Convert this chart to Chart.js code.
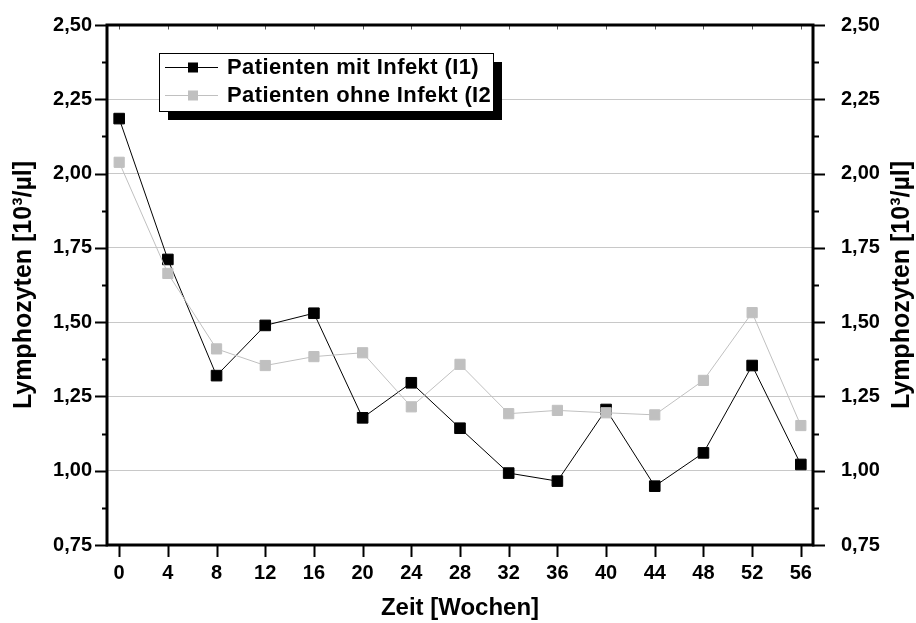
<!DOCTYPE html>
<html>
<head>
<meta charset="utf-8">
<script src="https://cdn.jsdelivr.net/npm/chart.js@4/dist/chart.umd.min.js"></script>
<style>
    html, body { margin: 0; padding: 0; background: #fff; }
</style>
</head>
<body>
<canvas id="grafica" width="916" height="623"></canvas>
<script>
const wochen = [0, 4, 8, 12, 16, 20, 24, 28, 32, 36, 40, 44, 48, 52, 56];
const mitInfekt = [2.185, 1.711, 1.320, 1.489, 1.530, 1.178, 1.296, 1.143, 0.992, 0.965, 1.206, 0.948, 1.060, 1.354, 1.021];
const ohneInfekt = [2.038, 1.664, 1.410, 1.354, 1.384, 1.397, 1.215, 1.358, 1.192, 1.203, 1.195, 1.188, 1.304, 1.532, 1.152];
const yTicks = [0.75, 1.00, 1.25, 1.50, 1.75, 2.00, 2.25, 2.50];
const etiquetas = ['Patienten mit Infekt (I1)', 'Patienten ohne Infekt (I2'];
const tituloY = 'Lymphozyten [10³/µl]';
const tituloX = 'Zeit [Wochen]';

const fuente = '"Liberation Sans", Arial, sans-serif';
const gris = '#c0c0c0';

function puntos(valores) {
    return wochen.map((w, i) => ({ x: w, y: valores[i] }));
}

function coma(v) {
    return Number(v).toFixed(2).replace('.', ',');
}

// fixed width for the vertical axes, no extra margin for the end labels
function anchoFijo(ancho) {
    return (axis) => {
        axis.width = ancho;
        axis.paddingTop = 0;
        axis.paddingBottom = 0;
    };
}

// box frame, tick marks, right axis title and the framed legend with shadow
const rahmen = {
    id: 'rahmen',
    afterDraw(chart) {
        const ctx = chart.ctx;
        const a = chart.chartArea;
        const sx = chart.scales.x;
        const sy = chart.scales.y;
        ctx.save();
        ctx.strokeStyle = '#000';
        ctx.lineCap = 'square';

        // y ticks, left and right
        ctx.beginPath();
        for (let i = 0; i < yTicks.length; i++) {
            const y = Math.round(sy.getPixelForValue(yTicks[i])) + 0.5;
            ctx.moveTo(a.left - 11, y); ctx.lineTo(a.left, y);
            ctx.moveTo(a.right, y); ctx.lineTo(a.right + 11, y);
            if (i < yTicks.length - 1) {
                const ym = Math.round(sy.getPixelForValue((yTicks[i] + yTicks[i + 1]) / 2)) + 0.5;
                ctx.moveTo(a.left - 4, ym); ctx.lineTo(a.left, ym);
                ctx.moveTo(a.right, ym); ctx.lineTo(a.right + 5, ym);
            }
        }
        ctx.lineWidth = 2;
        ctx.stroke();

        // x ticks below, small ones on the top edge
        ctx.beginPath();
        wochen.forEach(w => {
            const x = Math.round(sx.getPixelForValue(w)) + 0.5;
            ctx.moveTo(x, a.bottom); ctx.lineTo(x, a.bottom + 11);
        });
        ctx.stroke();
        ctx.beginPath();
        ctx.lineWidth = 1;
        wochen.forEach(w => {
            const x = Math.round(sx.getPixelForValue(w)) + 0.5;
            ctx.moveTo(x, a.top); ctx.lineTo(x, a.top + 4);
        });
        ctx.strokeStyle = '#555';
        ctx.stroke();

        // frame
        ctx.strokeStyle = '#000';
        ctx.lineWidth = 3;
        ctx.lineCap = 'butt';
        ctx.strokeRect(a.left, a.top, a.right - a.left, a.bottom - a.top);

        // right axis title, reading upwards like the left one
        ctx.translate(902, (a.top + a.bottom) / 2);
        ctx.rotate(-Math.PI / 2);
        ctx.fillStyle = '#000';
        ctx.font = 'bold 25px ' + fuente;
        ctx.textAlign = 'center';
        ctx.textBaseline = 'middle';
        ctx.fillText(tituloY, 0, 0);
        ctx.restore();

        // legend
        const bx = 159, by = 53, bw = 334, bh = 58;
        ctx.save();
        ctx.fillStyle = '#000';
        ctx.fillRect(bx + 9, by + 9, bw, bh);
        ctx.fillStyle = '#fff';
        ctx.fillRect(bx, by, bw, bh);
        ctx.strokeStyle = '#000';
        ctx.lineWidth = 1;
        ctx.strokeRect(bx + 0.5, by + 0.5, bw, bh);
        ctx.beginPath();
        ctx.rect(bx + 1, by + 1, bw - 1, bh - 1);
        ctx.clip();
        const filas = [by + 14, by + 42];
        chart.data.datasets.forEach((ds, i) => {
            const y = filas[i];
            ctx.strokeStyle = ds.borderColor;
            ctx.lineWidth = 1;
            ctx.beginPath();
            ctx.moveTo(165, y + 0.5); ctx.lineTo(218, y + 0.5);
            ctx.stroke();
            ctx.fillStyle = ds.backgroundColor;
            ctx.fillRect(188, y - 4.5, 10, 10);
            ctx.fillStyle = '#000';
            ctx.font = 'bold 22px ' + fuente;
            ctx.letterSpacing = '0.4px';
            ctx.textAlign = 'left';
            ctx.textBaseline = 'middle';
            ctx.fillText(ds.label, 227, y + 1);
        });
        ctx.restore();
    }
};

new Chart(document.getElementById('grafica'), {
    type: 'line',
    data: {
        datasets: [{
            label: etiquetas[0],
            data: puntos(mitInfekt),
            borderColor: '#000',
            backgroundColor: '#000',
            borderWidth: 1,
            pointStyle: 'rect',
            pointRadius: 7.5,
            pointBorderWidth: 1,
            order: 1
        }, {
            label: etiquetas[1],
            data: puntos(ohneInfekt),
            borderColor: gris,
            backgroundColor: gris,
            borderWidth: 1,
            pointStyle: 'rect',
            pointRadius: 7.2,
            pointBorderWidth: 1,
            order: 0
        }]
    },
    options: {
        responsive: false,
        animation: false,
        devicePixelRatio: 1,
        layout: { padding: { top: 25, left: 0, right: 0, bottom: 0 } },
        plugins: {
            legend: { display: false },
            tooltip: { enabled: false }
        },
        scales: {
            x: {
                type: 'linear',
                min: -1,
                max: 57,
                afterBuildTicks: (axis) => { axis.ticks = wochen.map(v => ({ value: v })); },
                afterFit: (axis) => { axis.height = 78; },
                grid: { display: false },
                border: { display: false },
                ticks: {
                    color: '#000',
                    padding: 8,
                    maxRotation: 0,
                    font: { family: fuente, size: 20, weight: 'bold' }
                },
                title: {
                    display: true,
                    text: tituloX,
                    color: '#000',
                    padding: { top: 0, bottom: 0 },
                    font: { family: fuente, size: 24, weight: 'bold' }
                }
            },
            y: {
                min: 0.75,
                max: 2.5,
                afterBuildTicks: (axis) => { axis.ticks = yTicks.map(v => ({ value: v })); },
                afterFit: anchoFijo(107),
                grid: {
                    drawTicks: false,
                    lineWidth: 1,
                    color: (c) => (c.tick && c.tick.value > 0.75 && c.tick.value < 2.5) ? '#c8c8c8' : 'rgba(0,0,0,0)'
                },
                border: { display: false },
                ticks: {
                    color: '#000',
                    padding: 15,
                    callback: coma,
                    font: { family: fuente, size: 20, weight: 'bold' }
                },
                title: {
                    display: true,
                    text: tituloY,
                    color: '#000',
                    padding: { top: 9, bottom: 0 },
                    font: { family: fuente, size: 25, weight: 'bold' }
                }
            },
            y2: {
                position: 'right',
                min: 0.75,
                max: 2.5,
                afterBuildTicks: (axis) => { axis.ticks = yTicks.map(v => ({ value: v })); },
                afterFit: anchoFijo(103),
                grid: { display: false },
                border: { display: false },
                ticks: {
                    color: '#000',
                    padding: 20,
                    callback: coma,
                    font: { family: fuente, size: 20, weight: 'bold' }
                }
            }
        }
    },
    plugins: [rahmen]
});
</script>
</body>
</html>
